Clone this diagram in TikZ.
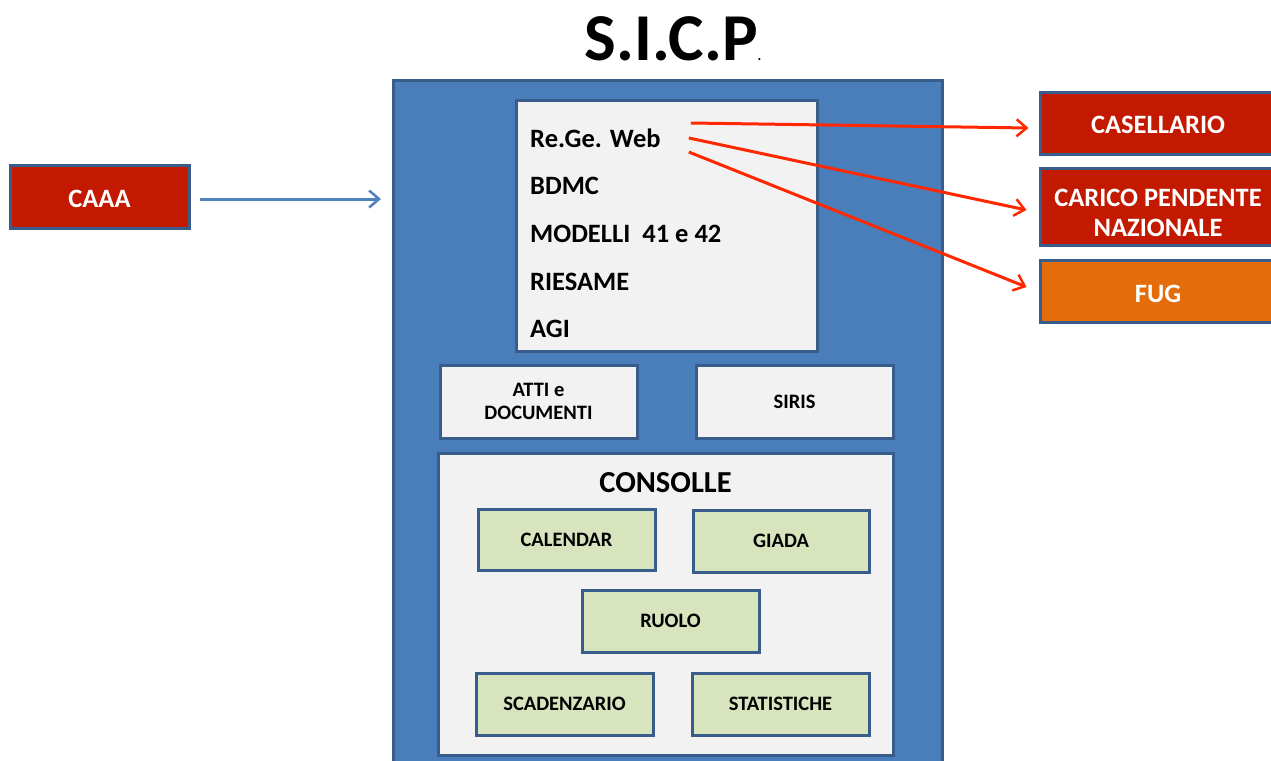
\documentclass[tikz,border=0pt]{standalone}
\usepackage{fontspec}
\setmainfont{Carlito}
\usetikzlibrary{arrows.meta,calc}
\definecolor{sblue}{RGB}{74,126,187}
\definecolor{sborder}{RGB}{56,93,138}
\definecolor{sgray}{RGB}{242,242,242}
\definecolor{sgreen}{RGB}{215,228,189}
\definecolor{sred}{RGB}{195,25,0}
\definecolor{sorange}{RGB}{228,108,10}
\definecolor{arred}{RGB}{255,40,0}
\definecolor{arblue}{RGB}{79,129,189}
\tikzset{
  box/.style={draw=sborder, line width=3pt, rectangle, inner sep=0pt},
  graybox/.style={box, fill=sgray},
  greenbox/.style={box, fill=sgreen, font=\bfseries\fontsize{20.5}{23}\selectfont},
  redbox/.style={box, fill=sred},
  redtxt/.style={text=white, font=\bfseries\fontsize{26.5}{31}\selectfont, align=center, inner sep=0pt},
  listtxt/.style={anchor=west, inner sep=0pt, font=\bfseries\fontsize{26.5}{30}\selectfont},
  redarrow/.style={draw=arred, line width=3pt, -{Straight Barb[length=10pt,width=17pt,line width=2.5pt]}},
  bluearrow/.style={draw=arblue, line width=3pt, -{Straight Barb[length=10pt,width=17pt,line width=2.5pt]}}
}
\begin{document}
\begin{tikzpicture}[x=1pt,y=-1pt]
\useasboundingbox (0,0) rectangle (1271,760);
\clip (0,0) rectangle (1271,760);
% title
\node[inner sep=0pt, anchor=base] (title) at (673,60) {\bfseries\fontsize{67}{67}\selectfont S.I.C.P\fontsize{14}{14}\selectfont.};
% big SICP box
\node[box, fill=sblue, minimum width=549pt, minimum height=720pt, anchor=north west] (sicp) at (392,79) {};
% inner list box
\node[graybox, minimum width=301pt, minimum height=251pt] (list) at (666.5,225.5) {};
\node[listtxt] (rege) at (530,138) {Re.Ge. Web};
\node[listtxt] (bdmc) at (530,186) {BDMC};
\node[listtxt] (mod) at (530,234) {MODELLI\ \ 41 e 42};
\node[listtxt] (ries) at (530,282) {RIESAME};
\node[listtxt] (agi) at (530,329) {AGI};
% atti / siris
\node[graybox, minimum width=197pt, minimum height=73pt, align=center, font=\bfseries\fontsize{20.5}{23}\selectfont] (atti) at (538.5,401.5) {ATTI e\\DOCUMENTI};
\node[graybox, minimum width=197pt, minimum height=73pt, font=\bfseries\fontsize{20.5}{23}\selectfont] (siris) at (794.5,401.5) {SIRIS};
% consolle
\node[graybox, minimum width=455pt, minimum height=302pt] (cons) at (665.5,604) {};
\node[inner sep=0pt, font=\bfseries\fontsize{30.5}{32}\selectfont] (constitle) at (665.5,483) {CONSOLLE};
\node[greenbox, minimum width=177pt, minimum height=61pt] (cal) at (566.5,539.5) {CALENDAR};
\node[greenbox, minimum width=176pt, minimum height=62pt] (giada) at (781,541) {GIADA};
\node[greenbox, minimum width=177pt, minimum height=62pt] (ruolo) at (670.5,621) {RUOLO};
\node[greenbox, minimum width=177pt, minimum height=62pt] (scad) at (564.5,704) {SCADENZARIO};
\node[greenbox, minimum width=177pt, minimum height=62pt] (stat) at (780.5,704) {STATISTICHE};
% left box
\node[redbox, minimum width=179pt, minimum height=63pt] (caaa) at (99.5,196.5) {};
\node[redtxt] (caaatxt) at (99.5,198.5) {CAAA};
% right boxes
\node[redbox, minimum width=236pt, minimum height=62pt] (cas) at (1158,123) {};
\node[redtxt] (castxt) at (1158,125) {CASELLARIO};
\node[redbox, minimum width=236pt, minimum height=77pt] (car) at (1158,206.5) {};
\node[redtxt] (cartxt) at (1158,213) {CARICO PENDENTE\\[-1pt]NAZIONALE};
\node[redbox, fill=sorange, minimum width=236pt, minimum height=62pt] (fug) at (1158,291) {};
\node[redtxt] (fugtxt) at (1158,294) {FUG};
% arrows
\coordinate (b1) at ($(caaa.east)+(9,2.5)$);
\coordinate (b2) at ($(sicp.west|-caaa.east)+(-11,2.5)$);
\draw[bluearrow] (b1) -- (b2);
\coordinate (r1) at ($(rege.east)+(30,-15)$);
\coordinate (r2) at ($(rege.east)+(28,0)$);
\coordinate (r3) at ($(rege.east)+(28,14)$);
\draw[redarrow] (r1) -- ($(cas.west)+(-10,5)$);
\draw[redarrow] (r2) -- ($(car.west)+(-12,3.5)$);
\draw[redarrow] (r3) -- ($(fug.west)+(-12,-4)$);
\end{tikzpicture}
\end{document}
